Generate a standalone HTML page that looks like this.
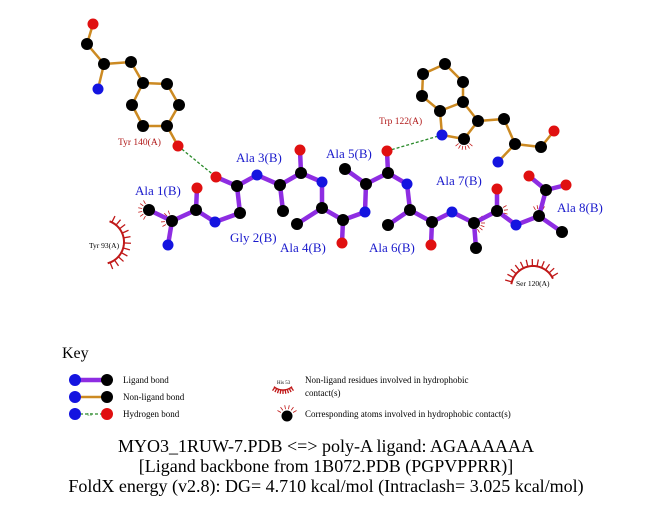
<!DOCTYPE html>
<html><head><meta charset="utf-8"><style>
html,body{margin:0;padding:0;background:#fff;}
svg{display:block;font-family:"Liberation Serif",serif;}
</style></head><body>
<svg id="s" width="651" height="511" viewBox="0 0 651 511" xmlns="http://www.w3.org/2000/svg">
<g id="hyd" stroke="#c01818" stroke-width="1.3" fill="none"></g>
<g stroke="#cc8a22" stroke-width="2.5" fill="none" stroke-linecap="round">
<polyline points="93,24 87,44 104,64 98,89"/>
<polyline points="104,64 131,62 143,83"/>
<polygon points="143,83 167,84 179,105 167,126 143,126 132,105"/>
<line x1="167" y1="126" x2="178" y2="146"/>
<polygon points="445,64 463,82 463,102 440,111 422,96 423,74"/>
<polyline points="440,111 442,135 464,139 478,121 463,102"/>
<polyline points="478,121 504,119 515,144 498,162"/>
<polyline points="515,144 541,147 554,131"/>
</g>
<g stroke="#8e2de2" stroke-width="4.5" fill="none" stroke-linecap="round">
<polyline points="149,210 172,221 168,245"/>
<polyline points="172,221 196,210 197,188"/>
<polyline points="196,210 215,222 240,213 237,186 216,177"/>
<polyline points="237,186 257,175 280,185 283,211"/>
<polyline points="280,185 301,173 300,150"/>
<polyline points="301,173 322,182 322,208 297,224"/>
<polyline points="322,208 343,220 342,243"/>
<polyline points="343,220 365,212 366,184 345,169"/>
<polyline points="366,184 388,173 387,151"/>
<polyline points="388,173 407,184 410,210 388,225"/>
<polyline points="410,210 432,222 431,245"/>
<polyline points="432,222 452,212 474,223 476,248"/>
<polyline points="474,223 497,211 497,189"/>
<polyline points="497,211 516,225 539,216 562,232"/>
<polyline points="539,216 546,190 529,176"/>
<line x1="546" y1="190" x2="566" y2="185"/>
</g>
<g stroke="#2a8a2a" stroke-width="1.3" stroke-dasharray="3,2">
<line x1="178" y1="146" x2="216" y2="177"/>
<line x1="387" y1="151" x2="442" y2="135"/>
</g>
<g id="atoms"></g>
<g fill="#1a1acc" font-size="13">
<text x="135" y="195">Ala 1(B)</text>
<text x="230" y="242">Gly 2(B)</text>
<text x="236" y="162">Ala 3(B)</text>
<text x="280" y="252">Ala 4(B)</text>
<text x="326" y="158">Ala 5(B)</text>
<text x="369" y="252">Ala 6(B)</text>
<text x="436" y="185">Ala 7(B)</text>
<text x="557" y="212">Ala 8(B)</text>
</g>
<g fill="#b01818" font-size="9.5">
<text x="118" y="145">Tyr 140(A)</text>
<text x="379" y="124">Trp 122(A)</text>
</g>
<g fill="#000" font-size="7.5">
<text x="89" y="248">Tyr 93(A)</text>
<text x="516" y="286">Ser 120(A)</text>
</g>
<text x="62" y="358" font-size="16">Key</text>
<line x1="75" y1="380" x2="107" y2="380" stroke="#8e2de2" stroke-width="4.5"/>
<line x1="75" y1="397" x2="107" y2="397" stroke="#cc8a22" stroke-width="2.5"/>
<line x1="75" y1="414" x2="107" y2="414" stroke="#2a8a2a" stroke-width="1.3" stroke-dasharray="3,2"/>
<text x="87" y="416" font-size="4" fill="#2a8a2a">3.0</text>
<circle cx="75" cy="380" r="6" fill="#1414e0"/><circle cx="107" cy="380" r="6" fill="#000"/>
<circle cx="75" cy="397" r="6" fill="#1414e0"/><circle cx="107" cy="397" r="6" fill="#000"/>
<circle cx="75" cy="414" r="6" fill="#1414e0"/><circle cx="107" cy="414" r="6" fill="#e01010"/>
<g font-size="9" fill="#000">
<text x="123" y="383">Ligand bond</text>
<text x="123" y="400">Non-ligand bond</text>
<text x="123" y="417">Hydrogen bond</text>
<text x="305" y="383">Non-ligand residues involved in hydrophobic</text>
<text x="305" y="396">contact(s)</text>
<text x="305" y="417">Corresponding atoms involved in hydrophobic contact(s)</text>
<text x="277" y="384" font-size="5">His 53</text>
</g>
<circle cx="287" cy="416" r="5.5" fill="#000"/>
<g font-size="18" fill="#000" text-anchor="middle">
<text x="326" y="452">MYO3_1RUW-7.PDB &lt;=&gt; poly-A ligand: AGAAAAAA</text>
<text x="326" y="472">[Ligand backbone from 1B072.PDB (PGPVPPRR)]</text>
<text x="326" y="492">FoldX energy (v2.8): DG= 4.710 kcal/mol (Intraclash= 3.025 kcal/mol)</text>
</g>
</svg>
<script>
var NS="http://www.w3.org/2000/svg";
var atoms=[["k",149,210],["k",172,221],["b",168,245],["k",196,210],["r",197,188],["b",215,222],["k",240,213],["k",237,186],["r",216,177],
["b",257,175],["k",280,185],["k",283,211],["k",301,173],["r",300,150],["b",322,182],["k",322,208],["k",297,224],["k",343,220],["r",342,243],
["b",365,212],["k",366,184],["k",345,169],["k",388,173],["r",387,151],["b",407,184],["k",410,210],["k",388,225],["k",432,222],["r",431,245],
["b",452,212],["k",474,223],["k",476,248],["k",497,211],["r",497,189],["b",516,225],["k",539,216],["k",562,232],["k",546,190],["r",529,176],["r",566,185],
["r",93,24],["k",87,44],["k",104,64],["b",98,89],["k",131,62],["k",143,83],["k",167,84],["k",179,105],["k",167,126],["k",143,126],["k",132,105],["r",178,146],
["k",445,64],["k",423,74],["k",463,82],["k",422,96],["k",440,111],["k",463,102],["k",478,121],["b",442,135],["k",464,139],["k",504,119],["k",515,144],["b",498,162],["k",541,147],["r",554,131]];
var col={k:"#000",b:"#1414e0",r:"#e01010"};
var g=document.getElementById("atoms");
atoms.forEach(function(a){var c=document.createElementNS(NS,"circle");c.setAttribute("cx",a[1]);c.setAttribute("cy",a[2]);c.setAttribute("r",a[0]=="k"?6:5.5);c.setAttribute("fill",col[a[0]]);g.appendChild(c);});
var h=document.getElementById("hyd");
function arc(cx,cy,r,a0,a1,n,len,w){var d="";for(var i=0;i<=40;i++){var t=(a0+(a1-a0)*i/40)*Math.PI/180;d+=(i?"L":"M")+(cx+r*Math.cos(t))+","+(cy+r*Math.sin(t));}
var p=document.createElementNS(NS,"path");p.setAttribute("d",d);p.setAttribute("stroke-width",w||"2");h.appendChild(p);
for(var i=0;i<n;i++){var t=(a0+(a1-a0)*(i+0.5)/n)*Math.PI/180;var l=document.createElementNS(NS,"line");l.setAttribute("x1",cx+r*Math.cos(t));l.setAttribute("y1",cy+r*Math.sin(t));l.setAttribute("x2",cx+(r+len)*Math.cos(t));l.setAttribute("y2",cy+(r+len)*Math.sin(t));h.appendChild(l);}}
arc(102,242,22,-70,75,11,7);
arc(533,288,22,190,335,12,7);
arc(283,376,14,50,130,9,4,"1.5");
function spark(cx,cy,a0,a1,n){for(var i=0;i<n;i++){var t=(a0+(a1-a0)*i/(n-1))*Math.PI/180;var l=document.createElementNS(NS,"line");l.setAttribute("x1",cx+7*Math.cos(t));l.setAttribute("y1",cy+7*Math.sin(t));l.setAttribute("x2",cx+11*Math.cos(t));l.setAttribute("y2",cy+11*Math.sin(t));l.setAttribute("stroke-width","0.8");h.appendChild(l);}}
spark(149,210,120,240,6);spark(172,221,150,250,5);spark(474,223,-40,60,6);spark(497,211,-30,40,4);spark(539,216,-60,-120,4);spark(464,139,40,140,6);spark(287,416,-150,-30,6);
</script>
</body></html>
